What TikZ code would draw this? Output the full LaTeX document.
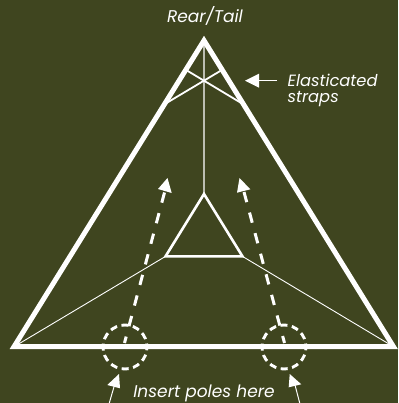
\documentclass[tikz,border=0pt]{standalone}
\usepackage{fontspec}
\setmainfont{Poppins}
\definecolor{bgol}{HTML}{3F451F}
\tikzset{
  lbl/.style={text=white,inner sep=0pt,font=\itshape\fontsize{17}{17}\selectfont},
  lblb/.style={text=white,inner sep=0pt,font=\itshape\fontsize{16.3}{16.3}\selectfont},
  hd/.style={fill=white,draw=none},
  thin line/.style={draw=white,line width=0.9pt},
  dashline/.style={draw=white,line width=3pt,dash pattern=on 10.5pt off 10.8pt},
  polering/.style={draw=white,line width=2.9pt,dash pattern=on 7pt off 4.52pt,dash phase=3.5pt},
}
\begin{document}
\begin{tikzpicture}[x=1pt,y=-1pt]
\useasboundingbox[fill=bgol] (0,0) rectangle (398,403);
\coordinate (A) at (204,40.5);
\coordinate (L) at (14,346.7);
\coordinate (R) at (393.5,346.7);
\coordinate (a) at (204,194);
\coordinate (l) at (165.5,256.4);
\coordinate (r) at (242.5,256.4);
% interior lines
\draw[draw=white!65!bgol,line width=1.2pt] (A) -- (a);
\draw[thin line] (L) -- (l);
\draw[thin line] (R) -- (r);
% straps
\draw[white,line width=1.8pt] (187.3,70.7) -- (241.7,103.3);
\draw[white,line width=1.8pt] (220.7,70.7) -- (166,103.3);
% triangles
\draw[white,line width=5pt,miter limit=10] (A) -- (L) -- (R) -- cycle;
\draw[white,line width=2.6pt,miter limit=10] (a) -- (l) -- (r) -- cycle;
% elastic arrow
\coordinate (e1) at (277,80.7);
\coordinate (e2) at (258,80.7);
\draw[white,line width=1pt] (e1) -- (e2);
\fill[hd] (245,80.7) -- (259,73.7) -- (259,87.7) -- cycle;
% dashed arrows
\coordinate (dl1) at (164.5,192.5);
\coordinate (dl2) at (124.5,343);
\coordinate (dr1) at (244,192);
\coordinate (dr2) at (284.5,343);
\draw[dashline] (dl1) -- (dl2);
\draw[dashline] (dr1) -- (dr2);
\fill[hd] (167.5,178) -- (158,189) -- (171.7,193) -- cycle;
\fill[hd] (239.5,178) -- (237,192.7) -- (250.3,189.3) -- cycle;
% circles
\coordinate (c1) at (125,347);
\coordinate (c2) at (284,347);
\draw[polering] (c1) circle[radius=22pt];
\draw[polering] (c2) circle[radius=22pt];
% lower arrows
\coordinate (b1) at (109.3,403);
\coordinate (b2) at (114.5,385);
\coordinate (b3) at (299.7,403);
\coordinate (b4) at (295,385);
\draw[white,line width=1pt] (b1) -- (b2);
\draw[white,line width=1pt] (b3) -- (b4);
\fill[hd] (119,374) -- (107.3,385) -- (120,388.3) -- cycle;
\fill[hd] (289.7,374) -- (288.7,387.3) -- (301.3,384.3) -- cycle;
% labels
\node[lbl,anchor=base] (rear) at (205,23) {Rear/Tail};
\node[lblb,anchor=base west] (el) at (287.5,87) {Elasticated};
\node[lblb,anchor=base west] (st) at (287.5,103) {straps};
\node[lbl,anchor=base] (ins) at (204,397) {Insert poles here};
\end{tikzpicture}
\end{document}
